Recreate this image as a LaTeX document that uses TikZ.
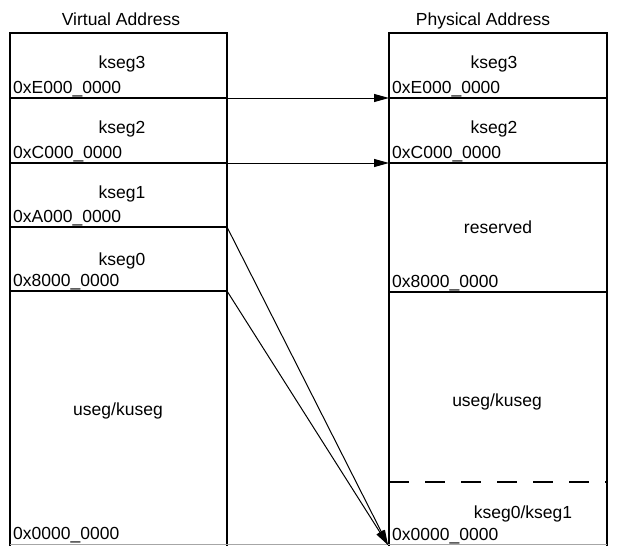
\documentclass[tikz,border=0pt]{standalone}
\usepackage{fontspec}
\setmainfont{Liberation Sans}
\usetikzlibrary{arrows.meta}
\begin{document}
\begin{tikzpicture}[x=1pt,y=-1pt,
  box/.style={draw=black,line width=1.2pt},
  sep/.style={draw=black,line width=1.2pt},
  dsep/.style={draw=black,line width=1.2pt,dash pattern=on 20pt off 16pt},
  lbl/.style={inner sep=0pt,anchor=base,font=\fontsize{17.5}{20}\selectfont},
  addr/.style={inner sep=0pt,anchor=base west,font=\fontsize{17.5}{20}\selectfont},
  map/.style={draw=black,line width=1pt,-{Triangle[length=15pt,width=8pt]}}]
\useasboundingbox (0,0) rectangle (617,546);
% corner / boundary coordinates
\coordinate (vTL) at (10,33);
\coordinate (vBR) at (227,546);
\coordinate (pTL) at (389,33);
\coordinate (pBR) at (607,546);
\coordinate (v3) at (227,98);
\coordinate (v2) at (227,163);
\coordinate (v1) at (227,227);
\coordinate (v0) at (227,291);
\coordinate (p3) at (389,98);
\coordinate (p2) at (389,163);
\coordinate (p0) at (388,545);
% boxes (open at the bottom edge of the page)
\draw[box] (10,546) -- (vTL) -- (227,33) -- (vBR);
\draw[box] (389,546) -- (pTL) -- (607,33) -- (pBR);
\draw[draw=black!35,line width=0.8pt] (10,544.6) -- (607,544.6);
% virtual separators
\draw[sep] (10,98) -- (v3);
\draw[sep] (10,163) -- (v2);
\draw[sep] (10,227) -- (v1);
\draw[sep] (10,291) -- (v0);
% physical separators
\draw[sep] (p3) -- (607,98);
\draw[sep] (p2) -- (607,163);
\draw[sep] (389,292) -- (607,292);
\draw[dsep] (389,482) -- (608,482);
% titles
\node[lbl] (vt) at (121,25) {Virtual Address};
\node[lbl] (pt) at (483,25) {Physical Address};
% virtual labels
\node[lbl] (vk3) at (122,68) {kseg3};
\node[addr] (va3) at (13,93) {0xE000\_0000};
\node[lbl] (vk2) at (122,133) {kseg2};
\node[addr] (va2) at (13,158) {0xC000\_0000};
\node[lbl] (vk1) at (122,198) {kseg1};
\node[addr] (va1) at (13,222) {0xA000\_0000};
\node[lbl] (vk0) at (122,265) {kseg0};
\node[addr] (va0) at (13,286) {0x8000\_0000};
\node[lbl] (vku) at (118,415) {useg/kuseg};
\node[addr] (vau) at (13,539) {0x0000\_0000};
% physical labels
\node[lbl] (pk3) at (494,68) {kseg3};
\node[addr] (pa3) at (392,93) {0xE000\_0000};
\node[lbl] (pk2) at (494,133) {kseg2};
\node[addr] (pa2) at (392,158) {0xC000\_0000};
\node[lbl] (pres) at (498,233) {reserved};
\node[addr] (pa8) at (392,287) {0x8000\_0000};
\node[lbl] (pku) at (497,406) {useg/kuseg};
\node[lbl] (pk01) at (523,518) {kseg0/kseg1};
\node[addr] (pa0) at (392,540) {0x0000\_0000};
% mapping arrows
\draw[map] (v3) -- (p3);
\draw[map] (v2) -- (p2);
\draw[map] (v1) -- (p0);
\draw[map] (v0) -- (p0);
\end{tikzpicture}
\end{document}
